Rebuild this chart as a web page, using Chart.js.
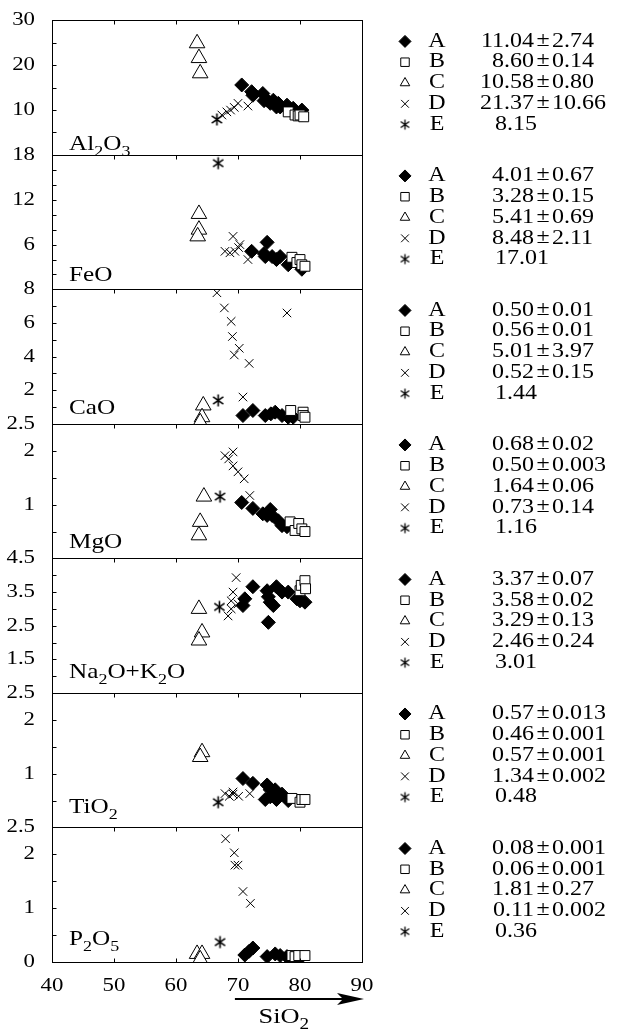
<!DOCTYPE html>
<html>
<head>
<meta charset="utf-8">
<script src="https://cdn.jsdelivr.net/npm/chart.js"></script>
<style>
    html, body { margin: 0; padding: 0; background: #fff; }
</style>
</head>
<body>
<canvas id="myChart" width="627" height="1036"></canvas>
<script>
// panels from top to bottom
const oxides = ['Al2O3', 'FeO', 'CaO', 'MgO', 'Na2O+K2O', 'TiO2', 'P2O5'];
const groups = ['A', 'B', 'C', 'D', 'E'];

// y axis range, minor tick step and labelled ticks for every panel
const yMin = [0, 0, 0, 0, 0.5, 0, 0];
const yMax = [30, 18, 8, 2.5, 4.5, 2.5, 2.5];
const yStep = [5, 2, 1, 0.5, 0.5, 0.5, 0.5];
const yLabels = [[10, 20, 30], [6, 12, 18], [2, 4, 6, 8], [1, 2, 2.5], [1.5, 2.5, 3.5, 4.5], [1, 2, 2.5], [0, 1, 2, 2.5]];
const xMin = 40, xMax = 90, xStep = 10;

// points are [SiO2, oxide]
const al2o3A = [[70.6, 15.6], [72.2, 14.1], [72.4, 13.3], [74.0, 13.7], [74.2, 12.1], [74.7, 12.2], [75.2, 11.5], [75.7, 12.2], [76.2, 10.7], [76.5, 11.5], [76.8, 10.7], [77.9, 11.1], [78.9, 10.4], [80.3, 10.0]];
const al2o3B = [[78.1, 9.6], [79.2, 8.9], [79.7, 8.7], [80.0, 8.9], [80.6, 8.5]];
const al2o3C = [[63.4, 24.9], [63.7, 21.6], [63.9, 18.2]];
const al2o3D = [[67.4, 8.9], [68.2, 9.6], [68.8, 10.0], [69.4, 10.6], [70.0, 11.5], [71.6, 10.9]];
const al2o3E = [[66.6, 7.9]];

const feoA = [[72.2, 5.1], [74.7, 6.3], [74.2, 4.8], [74.4, 4.4], [75.5, 4.4], [76.2, 4.0], [76.8, 4.4], [78.1, 3.3], [80.3, 2.7]];
const feoB = [[78.7, 4.3], [79.5, 3.6], [80.0, 4.0], [80.3, 3.3], [80.8, 3.1]];
const feoC = [[63.7, 10.1], [63.7, 8.0], [63.5, 7.1]];
const feoD = [[69.2, 7.1], [67.9, 5.1], [68.7, 4.9], [69.5, 5.1], [70.1, 5.6], [70.3, 6.0], [71.6, 4.0]];
const feoE = [[66.8, 16.9]];

const caoA = [[70.8, 0.5], [72.4, 0.8], [74.4, 0.5], [75.3, 0.6], [76.0, 0.7], [77.1, 0.5], [78.1, 0.4], [78.9, 0.4]];
const caoB = [[78.5, 0.8], [80.5, 0.7], [80.5, 0.5], [80.8, 0.4]];
const caoC = [[64.4, 1.1], [64.2, 0.4], [63.9, 0.1]];
const caoD = [[66.6, 7.8], [67.8, 6.9], [68.9, 6.1], [69.1, 5.2], [70.2, 4.5], [69.4, 4.1], [71.8, 3.6], [77.9, 6.6], [70.8, 1.6]];
const caoE = [[66.8, 1.4]];

const mgoA = [[70.6, 1.04], [72.4, 0.93], [74.0, 0.83], [74.7, 0.8], [75.2, 0.91], [75.5, 0.8], [76.5, 0.7], [77.1, 0.61], [77.9, 0.59]];
const mgoB = [[78.4, 0.68], [79.2, 0.52], [79.8, 0.65], [80.3, 0.55], [80.8, 0.5]];
const mgoC = [[64.5, 1.15], [63.9, 0.68], [63.7, 0.43]];
const mgoD = [[67.9, 1.91], [68.5, 1.85], [69.2, 1.98], [69.2, 1.72], [70.0, 1.61], [71.0, 1.48], [71.9, 1.17]];
const mgoE = [[67.1, 1.15]];

const alkA = [[70.8, 3.1], [71.1, 3.3], [72.4, 3.66], [74.7, 3.54], [74.9, 3.36], [75.2, 3.2], [75.7, 3.1], [76.2, 3.66], [77.1, 3.5], [78.1, 3.5], [74.9, 2.6], [79.5, 3.3], [80.0, 3.24], [80.8, 3.2]];
const alkB = [[80.0, 3.54], [80.2, 3.7], [80.8, 3.84], [80.9, 3.6]];
const alkC = [[63.7, 3.0], [64.2, 2.3], [63.7, 2.06]];
const alkD = [[68.4, 2.79], [68.9, 3.0], [68.9, 3.24], [69.2, 3.5], [70.0, 3.15], [69.7, 3.93]];
const alkE = [[67.0, 3.06]];

const tio2A = [[70.8, 0.91], [72.4, 0.82], [74.7, 0.79], [74.4, 0.52], [75.2, 0.7], [75.2, 0.57], [76.0, 0.7], [76.2, 0.52], [77.1, 0.62], [78.1, 0.5]];
const tio2B = [[78.7, 0.54], [80.0, 0.47], [80.3, 0.52], [80.8, 0.52]];
const tio2C = [[64.2, 1.4], [63.9, 1.31]];
const tio2D = [[67.9, 0.63], [68.6, 0.58], [69.2, 0.66], [69.2, 0.62], [70.1, 0.58], [71.9, 0.63]];
const tio2E = [[66.8, 0.47]];

const p2o5A = [[71.1, 0.13], [71.8, 0.2], [72.4, 0.26], [74.7, 0.1], [76.0, 0.15], [76.8, 0.12], [77.9, 0.1], [78.4, 0.04], [80.0, 0.07]];
const p2o5B = [[78.7, 0.12], [79.2, 0.1], [79.8, 0.12], [80.8, 0.12]];
const p2o5C = [[63.4, 0.15], [64.2, 0.15], [63.9, 0.05]];
const p2o5D = [[68.0, 2.29], [69.4, 2.03], [69.5, 1.8], [70.0, 1.8], [70.8, 1.31], [72.0, 1.09]];
const p2o5E = [[67.1, 0.37]];

// mean and standard deviation per group, shown right of each panel
const meanAl2O3 = ['11.04', '8.60', '10.58', '21.37', '8.15'];
const sdAl2O3 = ['2.74', '0.14', '0.80', '10.66', ''];
const meanFeO = ['4.01', '3.28', '5.41', '8.48', '17.01'];
const sdFeO = ['0.67', '0.15', '0.69', '2.11', ''];
const meanCaO = ['0.50', '0.56', '5.01', '0.52', '1.44'];
const sdCaO = ['0.01', '0.01', '3.97', '0.15', ''];
const meanMgO = ['0.68', '0.50', '1.64', '0.73', '1.16'];
const sdMgO = ['0.02', '0.003', '0.06', '0.14', ''];
const meanAlk = ['3.37', '3.58', '3.29', '2.46', '3.01'];
const sdAlk = ['0.07', '0.02', '0.13', '0.24', ''];
const meanTiO2 = ['0.57', '0.46', '0.57', '1.34', '0.48'];
const sdTiO2 = ['0.013', '0.001', '0.001', '0.002', ''];
const meanP2O5 = ['0.08', '0.06', '1.81', '0.11', '0.36'];
const sdP2O5 = ['0.001', '0.001', '0.27', '0.002', ''];

const panelData = [
    [al2o3A, al2o3B, al2o3C, al2o3D, al2o3E],
    [feoA, feoB, feoC, feoD, feoE],
    [caoA, caoB, caoC, caoD, caoE],
    [mgoA, mgoB, mgoC, mgoD, mgoE],
    [alkA, alkB, alkC, alkD, alkE],
    [tio2A, tio2B, tio2C, tio2D, tio2E],
    [p2o5A, p2o5B, p2o5C, p2o5D, p2o5E]
];
const panelMeans = [meanAl2O3, meanFeO, meanCaO, meanMgO, meanAlk, meanTiO2, meanP2O5];
const panelSds = [sdAl2O3, sdFeO, sdCaO, sdMgO, sdAlk, sdTiO2, sdP2O5];

const FONT = '"Liberation Serif", "Times New Roman", serif';
const STRETCH = 1.2; // the original lettering is set wide
const labelLift = [5, 8, 10, 10, 15, 14, 17];

// asterisk marker for group E
function makeAsterisk(size, lw) {
    const c = document.createElement('canvas');
    c.width = size + 3;
    c.height = size + 3;
    const g = c.getContext('2d');
    const m = c.width / 2;
    const r = size / 2;
    g.strokeStyle = '#000';
    g.lineWidth = lw;
    g.beginPath();
    g.moveTo(m, m - r);
    g.lineTo(m, m + r);
    g.moveTo(m - r * 0.85, m - r * 0.6);
    g.lineTo(m + r * 0.85, m + r * 0.6);
    g.moveTo(m + r * 0.85, m - r * 0.6);
    g.lineTo(m - r * 0.85, m + r * 0.6);
    g.stroke();
    return c;
}
const asterisk = makeAsterisk(12, 1.6);
const asteriskSmall = makeAsterisk(10, 1.3);

const markStyle = [
    { pointStyle: 'rectRot', radius: 7, fill: '#000', order: 5 },
    { pointStyle: 'rect', radius: 7, fill: '#fff', order: 1 },
    { pointStyle: 'triangle', radius: 9, fill: '#fff', order: 2 },
    { pointStyle: 'crossRot', radius: 6, fill: '#fff', order: 4 },
    { pointStyle: asterisk, radius: 6, fill: '#fff', order: 3 }
];
const legendStyle = [
    { pointStyle: 'rectRot', radius: 6, fill: '#000' },
    { pointStyle: 'rect', radius: 6, fill: '#fff' },
    { pointStyle: 'triangle', radius: 5.5, fill: '#fff' },
    { pointStyle: 'crossRot', radius: 5.5, fill: '#fff' },
    { pointStyle: asteriskSmall, radius: 5, fill: '#fff' }
];

// writes a formula with digits as subscripts, returns the width used
function drawFormula(ctx, text, x, y, size) {
    let cx = x;
    (text.match(/\d+|\D+/g) || []).forEach((part) => {
        const sub = /^\d/.test(part);
        ctx.font = (sub ? Math.round(size * 0.72) : size) + 'px ' + FONT;
        ctx.fillText(part, cx, sub ? y + size * 0.28 : y);
        cx += ctx.measureText(part).width * STRETCH;
    });
    return cx - x;
}

const overlay = {
    id: 'overlay',
    afterDraw(chart) {
        const ctx = chart.ctx;
        const area = chart.chartArea;
        const xs = chart.scales.x;
        ctx.save();
        ctx.strokeStyle = '#000';
        ctx.fillStyle = '#000';
        ctx.lineWidth = 1;

        oxides.forEach((name, i) => {
            const s = chart.scales['y' + i];
            const top = Math.round(s.top) + 0.5;
            const bottom = Math.round(s.bottom) + 0.5;
            const left = Math.round(area.left) + 0.5;
            const right = Math.round(area.right) + 0.5;
            ctx.strokeStyle = '#000';
            ctx.lineWidth = 1;
            ctx.strokeRect(left, top, right - left, bottom - top);

            // inward tick marks
            ctx.beginPath();
            s.ticks.forEach((t) => {
                if (t.value <= s.min || t.value >= s.max) return;
                const y = Math.round(s.getPixelForValue(t.value)) + 0.5;
                ctx.moveTo(left, y);
                ctx.lineTo(left + 4, y);
            });
            xs.ticks.forEach((t) => {
                if (t.value <= xs.min || t.value >= xs.max) return;
                const x = Math.round(xs.getPixelForValue(t.value)) + 0.5;
                ctx.moveTo(x, top);
                ctx.lineTo(x, top + 4);
                if (i === oxides.length - 1) {
                    ctx.moveTo(x, bottom);
                    ctx.lineTo(x, bottom - 4);
                }
            });
            ctx.stroke();

            // panel name
            ctx.textAlign = 'left';
            ctx.textBaseline = 'alphabetic';
            ctx.fillStyle = '#000';
            drawFormula(ctx, name, area.left + 17, s.bottom - labelLift[i], 21);

            // legend with statistics
            ctx.font = '20px ' + FONT;
            ctx.textBaseline = 'middle';
            groups.forEach((g, j) => {
                const y = s.top + 21 + j * 20.8;
                const st = legendStyle[j];
                ctx.fillStyle = st.fill;
                ctx.strokeStyle = '#000';
                ctx.lineWidth = 1;
                Chart.helpers.drawPoint(ctx, { pointStyle: st.pointStyle, radius: st.radius, borderWidth: 1, rotation: 0 }, area.right + 43, y);
                ctx.fillStyle = '#000';
                ctx.textAlign = 'center';
                ctx.fillText(g, area.right + 75, y);
                const mean = panelMeans[i][j];
                const sd = panelSds[i][j];
                if (sd) {
                    ctx.textAlign = 'right';
                    ctx.fillText(mean, area.right + 172, y);
                    ctx.textAlign = 'center';
                    ctx.fillText('±', area.right + 181, y - 1);
                    ctx.textAlign = 'left';
                    ctx.fillText(sd, area.right + 190, y);
                } else {
                    ctx.textAlign = 'left';
                    ctx.fillText(mean, area.right + 133, y);
                }
            });
        });

        // SiO2 arrow under the x axis
        const ay = area.bottom + 37;
        const ax0 = xs.getPixelForValue(69.5);
        const ax1 = area.right + 2;
        ctx.strokeStyle = '#000';
        ctx.fillStyle = '#000';
        ctx.lineWidth = 2;
        ctx.beginPath();
        ctx.moveTo(ax0, ay);
        ctx.lineTo(ax1 - 20, ay);
        ctx.stroke();
        ctx.beginPath();
        ctx.moveTo(ax1 - 27, ay - 6);
        ctx.lineTo(ax1, ay);
        ctx.lineTo(ax1 - 27, ay + 6);
        ctx.lineTo(ax1 - 21, ay);
        ctx.closePath();
        ctx.fill();

        ctx.textAlign = 'left';
        ctx.textBaseline = 'alphabetic';
        drawFormula(ctx, 'SiO2', xs.getPixelForValue(73.3), area.bottom + 61, 22);
        ctx.restore();
    }
};

const canvas = document.getElementById('myChart');
const context = canvas.getContext('2d');
// widen every text draw a little around its anchor point
const plainFillText = context.fillText;
context.fillText = function (text, x, y, maxWidth) {
    this.save();
    this.translate(x, y);
    this.scale(STRETCH, 1);
    if (maxWidth === undefined) {
        plainFillText.call(this, text, 0, 0);
    } else {
        plainFillText.call(this, text, 0, 0, maxWidth / STRETCH);
    }
    this.restore();
};

const scales = {
    x: {
        type: 'linear',
        position: 'bottom',
        min: xMin,
        max: xMax,
        ticks: { stepSize: xStep, padding: 5, color: '#000', font: { family: FONT, size: 19 } },
        grid: { display: false },
        border: { display: false },
        afterFit: function (scale) {
            scale.height = 74;
        }
    }
};
oxides.forEach((name, i) => {
    scales['y' + i] = {
        type: 'linear',
        axis: 'y',
        position: 'left',
        stack: 'panels',
        stackWeight: 1,
        weight: oxides.length - i,
        min: yMin[i],
        max: yMax[i],
        ticks: {
            stepSize: yStep[i],
            autoSkip: false,
            padding: 9,
            color: '#000',
            font: { family: FONT, size: 19 },
            callback: function (value) {
                const hit = yLabels[i].some((v) => Math.abs(v - value) < 1e-6);
                return hit ? String(value) : '';
            }
        },
        grid: { display: false },
        border: { display: false },
        afterFit: function (scale) {
            scale.width = 52;
        }
    };
});

const datasets = [];
oxides.forEach((name, i) => {
    groups.forEach((g, j) => {
        const st = markStyle[j];
        datasets.push({
            label: name + ' ' + g,
            data: panelData[i][j].map((p) => ({ x: p[0], y: p[1] })),
            xAxisID: 'x',
            yAxisID: 'y' + i,
            order: st.order,
            pointStyle: st.pointStyle,
            pointRadius: st.radius,
            backgroundColor: st.fill,
            borderColor: '#000',
            borderWidth: 1
        });
    });
});

window.myChart = new Chart(context, {
    type: 'scatter',
    data: { datasets: datasets },
    options: {
        responsive: false,
        animation: false,
        events: [],
        layout: { padding: { left: 0, right: 265, top: 20, bottom: 0 } },
        plugins: {
            legend: { display: false },
            tooltip: { enabled: false }
        },
        scales: scales
    },
    plugins: [overlay]
});
</script>
</body>
</html>
